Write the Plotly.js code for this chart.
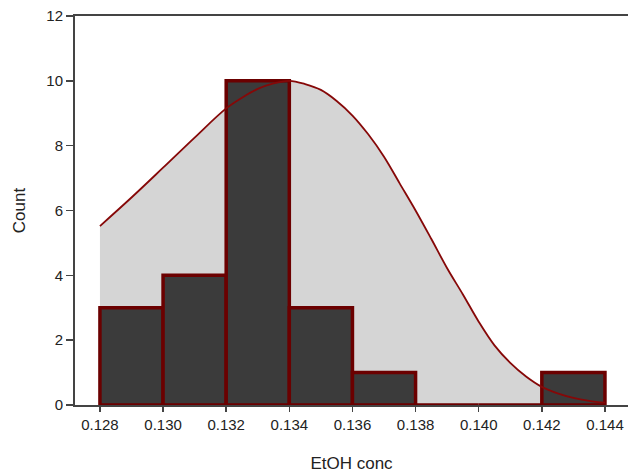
<!DOCTYPE html>
<html>
<head>
<meta charset="utf-8">
<script src="https://cdn.plot.ly/plotly-3.0.1.min.js"></script>
<style>html,body{margin:0;padding:0;background:#fff;}#chart{width:629px;height:474px;}</style>
</head>
<body>
<div id="chart"></div>
<script>
// Histogram bins (left edges) and counts
const binStarts = [0.128, 0.130, 0.132, 0.134, 0.136, 0.138, 0.140, 0.142];
const counts    = [3, 4, 10, 3, 1, 0, 0, 1];
const binWidth = 0.002;

// Fitted normal curve
const curveX = [0.1280, 0.1290, 0.1300, 0.1310, 0.1320, 0.1325, 0.1330, 0.1335, 0.1340, 0.1345, 0.1350, 0.1355, 0.1360, 0.1365, 0.1370, 0.1375, 0.1380, 0.1385, 0.1390, 0.1395, 0.1400, 0.1405, 0.1410, 0.1415, 0.1420, 0.1425, 0.1430, 0.1435, 0.1440];
const curveY = [5.52, 6.40, 7.32, 8.25, 9.15, 9.48, 9.75, 9.92, 10.0, 9.90, 9.72, 9.38, 8.93, 8.35, 7.66, 6.83, 6.00, 5.12, 4.22, 3.41, 2.57, 1.84, 1.30, 0.88, 0.56, 0.36, 0.22, 0.13, 0.07];

const xTicks = [0.128, 0.130, 0.132, 0.134, 0.136, 0.138, 0.140, 0.142, 0.144];
const yTicks = [0, 2, 4, 6, 8, 10, 12];
const xRange = [0.12721, 0.14473];
const yRange = [0, 12];

const traces = [
  {
    type: 'scatter', mode: 'lines', x: curveX, y: curveY, xaxis: 'x', yaxis: 'y',
    line: {color: 'rgba(0,0,0,0)', width: 0, shape: 'spline'},
    fill: 'tozeroy', fillcolor: '#d5d5d5', hoverinfo: 'skip', showlegend: false
  },
  {
    type: 'bar', x: binStarts, y: counts, width: binWidth, offset: 0, xaxis: 'x2', yaxis: 'y2',
    marker: {color: '#3b3b3b', line: {color: '#6b0000', width: 3.5}},
    showlegend: false
  },
  {
    type: 'scatter', mode: 'lines', x: curveX, y: curveY, xaxis: 'x2', yaxis: 'y2',
    line: {color: '#860808', width: 1.8, shape: 'spline'},
    showlegend: false
  }
];

const layout = {
  width: 629, height: 474,
  margin: {l: 75, r: 1, t: 16, b: 69},
  paper_bgcolor: '#ffffff', plot_bgcolor: '#ffffff',
  font: {family: 'Liberation Sans, Arial, sans-serif', color: '#222222', size: 15},
  barmode: 'overlay',
  xaxis: {
    range: xRange, tickvals: xTicks, ticktext: xTicks.map(v => v.toFixed(3)),
    ticks: 'outside', ticklen: 5, tickwidth: 1.5, tickcolor: '#444',
    showline: true, linecolor: '#444', linewidth: 2, mirror: true,
    showgrid: false, zeroline: false,
    tickfont: {size: 15, color: '#222'},
    title: {text: 'EtOH conc', font: {size: 17, color: '#222'}, standoff: 25}
  },
  yaxis: {
    range: yRange, tickvals: yTicks,
    ticks: 'outside', ticklen: 7, tickwidth: 1.5, tickcolor: '#444',
    showline: true, linecolor: '#444', linewidth: 2,
    showgrid: false, zeroline: false,
    tickfont: {size: 15, color: '#222'},
    title: {text: 'Count', font: {size: 17, color: '#222'}, standoff: 16}
  },
  xaxis2: {overlaying: 'x', anchor: 'y2', range: xRange, visible: false, showgrid: false, zeroline: false},
  yaxis2: {overlaying: 'y', anchor: 'x2', range: yRange, visible: false, showgrid: false, zeroline: false}
};

Plotly.newPlot('chart', traces, layout, {displayModeBar: false, staticPlot: true});
</script>
</body>
</html>
